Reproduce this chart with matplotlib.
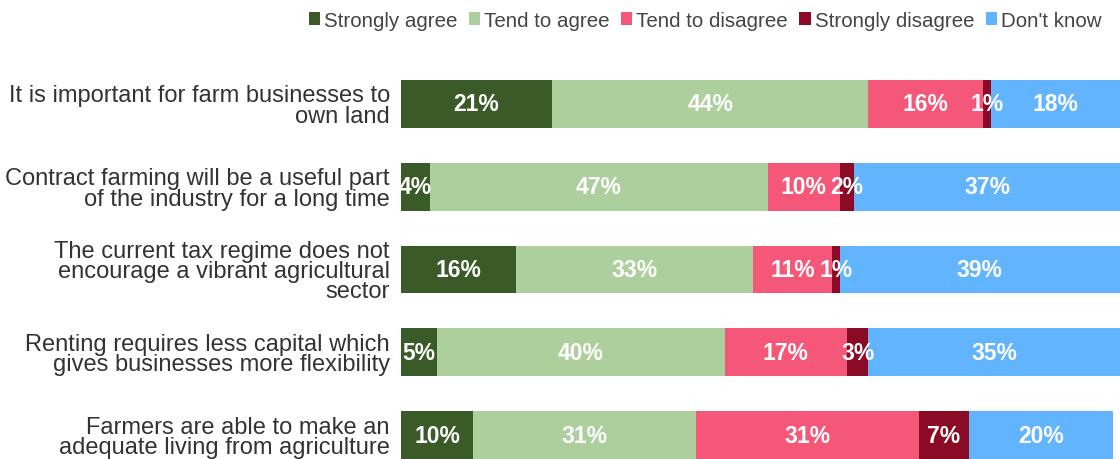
import matplotlib.pyplot as plt
from matplotlib.patches import Patch

plt.rcParams['font.family'] = ['Liberation Sans', 'DejaVu Sans']

statements = [
    "It is important for farm businesses to\nown land",
    "Contract farming will be a useful part\nof the industry for a long time",
    "The current tax regime does not\nencourage a vibrant agricultural\nsector",
    "Renting requires less capital which\ngives businesses more flexibility",
    "Farmers are able to make an\nadequate living from agriculture",
]
responses = ["Strongly agree", "Tend to agree", "Tend to disagree",
             "Strongly disagree", "Don't know"]
strongly_agree = [21, 4, 16, 5, 10]
tend_agree = [44, 47, 33, 40, 31]
tend_disagree = [16, 10, 11, 17, 31]
strongly_disagree = [1, 2, 1, 3, 7]
dont_know = [18, 37, 39, 35, 20]

colors = ["#3a5a28", "#adcf9d", "#f55779", "#8b0b26", "#63b4fe"]
series = [strongly_agree, tend_agree, tend_disagree, strongly_disagree, dont_know]

fig = plt.figure(figsize=(11.2, 4.6), dpi=100)
ax = fig.add_axes([401 / 1120, 0, 719 / 1120, 379 / 460])

ypos = list(range(len(statements)))
left = [0] * len(statements)
for vals, col in zip(series, colors):
    ax.barh(ypos, vals, left=left, height=0.58, color=col, edgecolor="none")
    for y, v, l in zip(ypos, vals, left):
        ax.text(l + v / 2, y, f"{v}%", ha="center", va="center",
                color="white", fontsize=16.5, fontweight="bold")
    left = [a + b for a, b in zip(left, vals)]

ax.set_xlim(0, 100)
ax.set_ylim(4.29, -0.29)
ax.set_yticks(ypos)
ax.set_yticklabels(statements, fontsize=17, color="#333333",
                   linespacing=0.9)
ax.tick_params(axis="y", length=0, pad=8)
ax.set_xticks([])
for s in ax.spines.values():
    s.set_visible(False)

handles = [Patch(facecolor=c, edgecolor="none") for c in colors]
fig.legend(handles, responses, loc="upper right", ncol=5,
           bbox_to_anchor=(1.0, 1.015), frameon=False, fontsize=14.8,
           handlelength=0.55, handleheight=0.55, handletextpad=0.2,
           columnspacing=0.55, labelcolor="#444444")

fig.savefig("out.png", dpi=100)
